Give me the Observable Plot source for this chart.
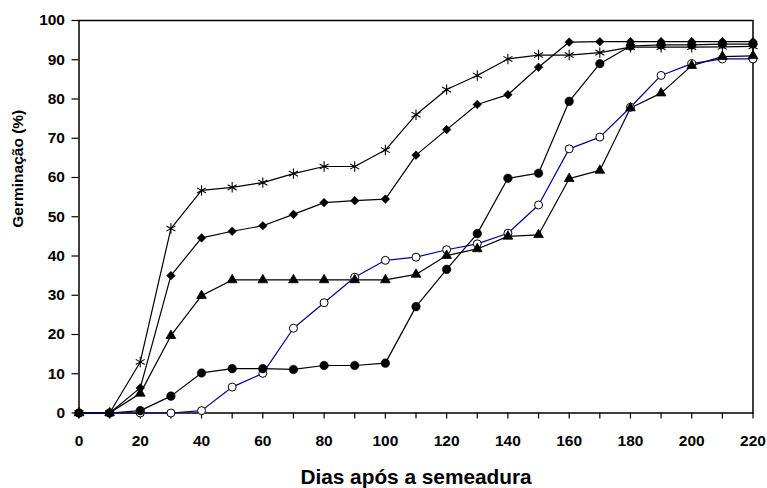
<!DOCTYPE html>
<html>
<head>
<meta charset="utf-8">
<script src="https://cdn.jsdelivr.net/npm/d3@7"></script>
<script src="https://cdn.jsdelivr.net/npm/@observablehq/plot@0.6"></script>
<style>
  html, body { margin: 0; padding: 0; background: #fff; }
</style>
</head>
<body>
<div id="chart"></div>
<script>
const days = [0,10,20,30,40,50,60,70,80,90,100,110,120,130,140,150,160,170,180,190,200,210,220];
const starSeries    = [0,0,13,47,56.7,57.5,58.7,61,62.8,62.8,67,76,82.4,86,90.2,91.2,91.2,91.8,93.2,93.2,93.2,93.3,93.4];
const diamondSeries = [0,0,6.4,35,44.6,46.3,47.7,50.6,53.6,54.1,54.5,65.7,72.2,78.6,81.1,88.1,94.5,94.6,94.6,94.6,94.6,94.6,94.6];
const triangleSeries= [0,0,5,19.7,29.9,33.9,33.9,33.9,33.9,33.9,33.9,35.3,40.1,41.8,45.0,45.4,59.7,61.8,77.7,81.5,88.5,90.8,91.0];
const openSeries    = [0,0,0,0,0.6,6.6,10.1,21.6,28.1,34.6,38.9,39.7,41.6,43.1,45.8,53.0,67.3,70.3,77.9,86.0,89.0,90.2,90.2];
const filledSeries  = [0,0,0.6,4.3,10.2,11.3,11.3,11.1,12.1,12.1,12.7,27.1,36.6,45.7,59.8,61.1,79.4,89.0,93.5,93.8,93.8,94,94];
const xTicks = [0,10,20,30,40,50,60,70,80,90,100,110,120,130,140,150,160,170,180,190,200,210,220];
const yTicks = [0,10,20,30,40,50,60,70,80,90,100];
const xLabel = "Dias após a semeadura";
const yLabel = "Germinação (%)";

const toRows = (vals) => days.map((d, i) => ({x: d, y: vals[i]}));
const open = toRows(openSeries), tri = toRows(triangleSeries), filled = toRows(filledSeries),
      dia = toRows(diamondSeries), star = toRows(starSeries);

const chart = Plot.plot({
  width: 767,
  height: 488,
  marginLeft: 78.5,
  marginRight: 14.5,
  marginTop: 20,
  marginBottom: 75.5,
  style: {fontFamily: "'Liberation Sans', Arial, sans-serif", fontSize: "15.5px", fontWeight: "bold", color: "black", background: "white"},
  x: {domain: [0, 220]},
  y: {domain: [0, 100]},
  marks: [
    Plot.frame({stroke: "black", strokeWidth: 1.5}),
    Plot.axisX({ticks: xTicks, tickFormat: d => d % 20 === 0 ? String(d) : "", tickSize: 6, tickPadding: 16, label: null, strokeWidth: 1.2}),
    Plot.axisY({ticks: yTicks, tickSize: 7, tickPadding: 7, label: null, strokeWidth: 1.2}),
    Plot.line(tri, {x: "x", y: "y", stroke: "black", strokeWidth: 1.2}),
    Plot.line(filled, {x: "x", y: "y", stroke: "black", strokeWidth: 1.2}),
    Plot.line(dia, {x: "x", y: "y", stroke: "black", strokeWidth: 1.2}),
    Plot.line(star, {x: "x", y: "y", stroke: "black", strokeWidth: 1.2}),
    Plot.line(open, {x: "x", y: "y", stroke: "#000099", strokeWidth: 1.2}),
    Plot.dot(open, {x: "x", y: "y", symbol: "circle", r: 4, fill: "white", stroke: "black", strokeWidth: 1}),
    Plot.dot(tri, {x: "x", y: "y", symbol: "triangle", r: 3.6, fill: "black", stroke: "black", strokeWidth: 0.8}),
    Plot.dot(filled, {x: "x", y: "y", symbol: "circle", r: 4.3, fill: "black", stroke: "black", strokeWidth: 0.5}),
    Plot.dot(dia, {x: "x", y: "y", symbol: "diamond2", r: 3.9, fill: "black", stroke: "black", strokeWidth: 0.5}),
    Plot.dot(star, {x: "x", y: "y", symbol: "asterisk", r: 4.9, fill: "none", stroke: "black", strokeWidth: 1.1}),
    Plot.text([xLabel], {text: d => d, frameAnchor: "bottom", lineAnchor: "bottom", dy: 71, fontSize: 20.8, fontWeight: "bold", fill: "black"}),
    Plot.text([yLabel], {text: d => d, frameAnchor: "left", rotate: -90, dx: -60.5, dy: 11, fontSize: 15.5, fontWeight: "bold", fill: "black"})
  ]
});
document.getElementById("chart").appendChild(chart);
</script>
</body>
</html>
